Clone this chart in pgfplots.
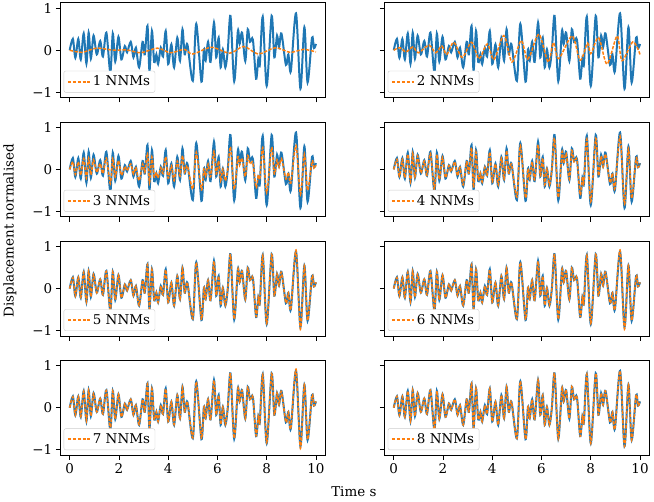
\documentclass[border=0pt]{standalone}
\usepackage{fontspec}
\setmainfont{DejaVu Serif}
\usepackage{pgfplots}
\pgfplotsset{compat=1.18}
\usepackage{pgfplotstable}
\usepgfplotslibrary{groupplots}
\usetikzlibrary{calc}
\definecolor{mblue}{RGB}{31,119,180}
\definecolor{morange}{RGB}{255,127,14}
\definecolor{lgray}{RGB}{204,204,204}

\pgfplotstableread{
t b o3 o4 o5
0.00 0.00 0.00 0.00 0.00
0.13 0.27 0.18 0.24 0.26
0.23 -0.18 -0.12 -0.16 -0.18
0.35 0.27 0.18 0.24 0.27
0.45 -0.22 -0.14 -0.20 -0.21
0.57 0.40 0.26 0.36 0.39
0.68 -0.32 -0.21 -0.29 -0.31
0.77 0.42 0.27 0.38 0.41
0.86 -0.20 -0.13 -0.18 -0.20
0.97 0.35 0.23 0.32 0.34
1.10 -0.10 -0.07 -0.09 -0.10
1.24 0.22 0.14 0.20 0.22
1.35 -0.15 -0.10 -0.14 -0.15
1.49 0.42 0.27 0.38 0.41
1.65 -0.53 -0.34 -0.48 -0.52
1.75 0.40 0.26 0.36 0.39
1.85 -0.27 -0.18 -0.24 -0.27
1.98 0.32 0.21 0.29 0.32
2.10 -0.22 -0.14 -0.20 -0.22
2.24 0.10 0.07 0.09 0.10
2.33 -0.05 -0.03 -0.05 -0.05
2.48 0.20 0.13 0.18 0.20
2.59 -0.17 -0.11 -0.15 -0.17
2.69 0.06 0.04 0.05 0.06
2.82 -0.41 -0.27 -0.37 -0.40
2.96 0.20 0.13 0.18 0.20
3.05 -0.10 -0.07 -0.09 -0.10
3.16 0.58 0.38 0.52 0.57
3.24 -0.49 -0.32 -0.44 -0.48
3.34 0.46 0.30 0.41 0.45
3.43 -0.28 -0.18 -0.25 -0.28
3.52 -0.10 -0.07 -0.09 -0.10
3.59 -0.33 -0.21 -0.30 -0.33
3.70 0.06 0.04 0.05 0.06
3.79 -0.15 -0.10 -0.14 -0.15
3.90 0.46 0.30 0.41 0.45
4.00 -0.33 -0.21 -0.30 -0.33
4.13 0.14 0.09 0.13 0.14
4.24 -0.41 -0.27 -0.37 -0.40
4.37 0.30 0.20 0.27 0.30
4.48 -0.25 -0.16 -0.23 -0.25
4.58 0.50 0.33 0.45 0.49
4.67 -0.10 -0.07 -0.09 -0.10
4.78 0.14 0.09 0.13 0.14
5.00 -0.73 -0.47 -0.66 -0.72
5.14 0.63 0.41 0.57 0.62
5.35 -0.75 -0.49 -0.68 -0.73
5.45 0.02 0.01 0.02 0.02
5.52 -0.25 -0.16 -0.23 -0.25
5.62 0.20 0.13 0.18 0.20
5.72 -0.28 -0.18 -0.25 -0.28
5.86 0.66 0.43 0.59 0.65
5.95 -0.17 -0.11 -0.15 -0.17
6.05 0.30 0.20 0.27 0.30
6.13 -0.41 -0.27 -0.37 -0.40
6.22 0.02 0.01 0.02 0.02
6.32 -0.41 -0.27 -0.37 -0.40
6.42 0.00 0.00 0.00 0.00
6.53 0.82 0.53 0.74 0.81
6.68 -0.74 -0.48 -0.67 -0.73
6.83 0.46 0.30 0.41 0.45
6.90 0.15 0.10 0.14 0.15
7.00 0.42 0.27 0.38 0.41
7.13 -0.26 -0.17 -0.23 -0.26
7.23 0.50 0.33 0.45 0.49
7.32 0.20 0.13 0.18 0.20
7.44 0.25 0.16 0.23 0.25
7.57 -0.68 -0.44 -0.61 -0.67
7.66 -0.20 -0.13 -0.18 -0.20
7.72 -0.35 -0.23 -0.32 -0.35
7.84 0.80 0.52 0.72 0.79
8.00 -0.85 -0.55 -0.77 -0.83
8.20 0.82 0.53 0.74 0.81
8.31 -0.17 -0.11 -0.15 -0.17
8.42 0.35 0.23 0.32 0.35
8.50 0.07 0.05 0.06 0.07
8.60 0.40 0.26 0.36 0.39
8.78 -0.35 -0.23 -0.32 -0.35
8.88 -0.10 -0.07 -0.09 -0.10
8.98 -0.50 -0.33 -0.45 -0.49
9.19 0.88 0.57 0.79 0.92
9.37 -0.92 -0.60 -0.83 -0.97
9.53 0.55 0.36 0.50 0.55
9.66 -0.77 -0.50 -0.69 -0.76
9.84 0.30 0.20 0.27 0.30
9.92 0.05 0.03 0.05 0.05
10.00 0.15 0.10 0.14 0.15
}\sig

\pgfplotstableread{
t o
0.00 0.00
0.50 -0.05
1.10 0.05
1.78 0.00
2.30 0.01
2.89 -0.06
3.56 0.05
4.10 -0.06
4.65 0.02
5.00 -0.09
5.75 0.07
6.50 -0.07
7.07 0.09
7.66 -0.09
8.35 0.06
8.95 -0.05
9.50 0.02
10.00 -0.04
}\oone

\pgfplotstableread{
t o
0.00 0.00
0.25 0.06
0.50 -0.04
0.78 0.08
1.00 -0.06
1.43 0.12
1.70 -0.06
1.95 0.10
2.15 -0.10
2.44 0.19
2.78 -0.17
3.16 0.19
3.46 -0.20
3.80 0.15
4.07 -0.22
4.47 0.35
4.80 -0.28
5.17 0.23
5.40 -0.20
5.55 -0.10
5.90 0.38
6.27 -0.28
6.48 0.18
6.70 -0.20
7.24 0.34
7.57 -0.24
7.87 0.17
8.00 -0.08
8.32 0.30
8.66 -0.33
9.07 0.34
9.27 -0.25
9.71 0.20
10.00 -0.10
}\otwo

\pgfplotsset{
  Lcol/.style={yticklabels={−1,0,1}},
  Rcol/.style={yticklabels={}},
  noX/.style={xticklabels={}},
  blueline/.style={mblue, line width=2pt, smooth, forget plot},
  orangeline/.style={morange, line width=1.5pt, smooth, dash pattern=on 3.4pt off 1.5pt},
}

\begin{document}
\begin{tikzpicture}[font=\fontsize{13.5}{15.5}\selectfont]
\begin{groupplot}[
  group style={group size=2 by 4, horizontal sep=60pt, vertical sep=24.5pt},
  scale only axis, width=265pt, height=95pt,
  xmin=-0.365, xmax=10.365, ymin=-1.13, ymax=1.13,
  xtick={0,2,4,6,8,10}, ytick={-1,0,1},
  tick align=outside, xtick pos=left, ytick pos=left,
  major tick length=4.9pt,
  every tick/.style={black, line width=0.8pt},
  axis line style={line width=0.8pt},
  tick label style={font=\fontsize{13.5}{15.5}\selectfont},
  /pgf/number format/assume math mode=true,
  legend style={at={(0,0)}, anchor=south west, xshift=3pt, yshift=5pt,
    draw=lgray, rounded corners=2pt, fill=white,
    font=\fontsize{13.5}{15.5}\selectfont, inner xsep=3pt, inner ysep=3pt},
  legend cell align=left,
  legend image code/.code={\path[draw=morange, solid, line width=2.1pt, line cap=butt]
     (0pt,0pt)--(3.4pt,0pt) (4.9pt,0pt)--(8.3pt,0pt) (9.8pt,0pt)--(13.2pt,0pt)
     (14.7pt,0pt)--(18.1pt,0pt) (19.6pt,0pt)--(22pt,0pt);},
]
\nextgroupplot[Lcol,noX]
\addplot[blueline] table[x=t,y=b]{\sig};
\addplot[orangeline] table[x=t,y=o]{\oone};
\addlegendentry{1 NNMs}
\nextgroupplot[Rcol,noX]
\addplot[blueline] table[x=t,y=b]{\sig};
\addplot[orangeline] table[x=t,y=o]{\otwo};
\addlegendentry{2 NNMs}
\nextgroupplot[Lcol,noX]
\addplot[blueline] table[x=t,y=b]{\sig};
\addplot[orangeline] table[x=t,y=o3]{\sig};
\addlegendentry{3 NNMs}
\nextgroupplot[Rcol,noX]
\addplot[blueline] table[x=t,y=b]{\sig};
\addplot[orangeline] table[x=t,y=o4]{\sig};
\addlegendentry{4 NNMs}
\nextgroupplot[Lcol,noX]
\addplot[blueline] table[x=t,y=b]{\sig};
\addplot[orangeline] table[x=t,y=o5]{\sig};
\addlegendentry{5 NNMs}
\nextgroupplot[Rcol,noX]
\addplot[blueline] table[x=t,y=b]{\sig};
\addplot[orangeline] table[x=t,y=o5]{\sig};
\addlegendentry{6 NNMs}
\nextgroupplot[Lcol]
\addplot[blueline] table[x=t,y=b]{\sig};
\addplot[orangeline] table[x=t,y=o5]{\sig};
\addlegendentry{7 NNMs}
\nextgroupplot[Rcol]
\addplot[blueline] table[x=t,y=b]{\sig};
\addplot[orangeline] table[x=t,y=b]{\sig};
\addlegendentry{8 NNMs}
\end{groupplot}
\coordinate (O) at (group c1r1.north west);
\node[rotate=90] at ($(O)+(-51pt,-228.5pt)$) {Displacement normalised};
\node at ($(O)+(294pt,-490.5pt)$) {Time s};
\path ($(O)+(-59pt,1.5pt)$) rectangle ($(O)+(595pt,-500.5pt)$);
\end{tikzpicture}
\end{document}
